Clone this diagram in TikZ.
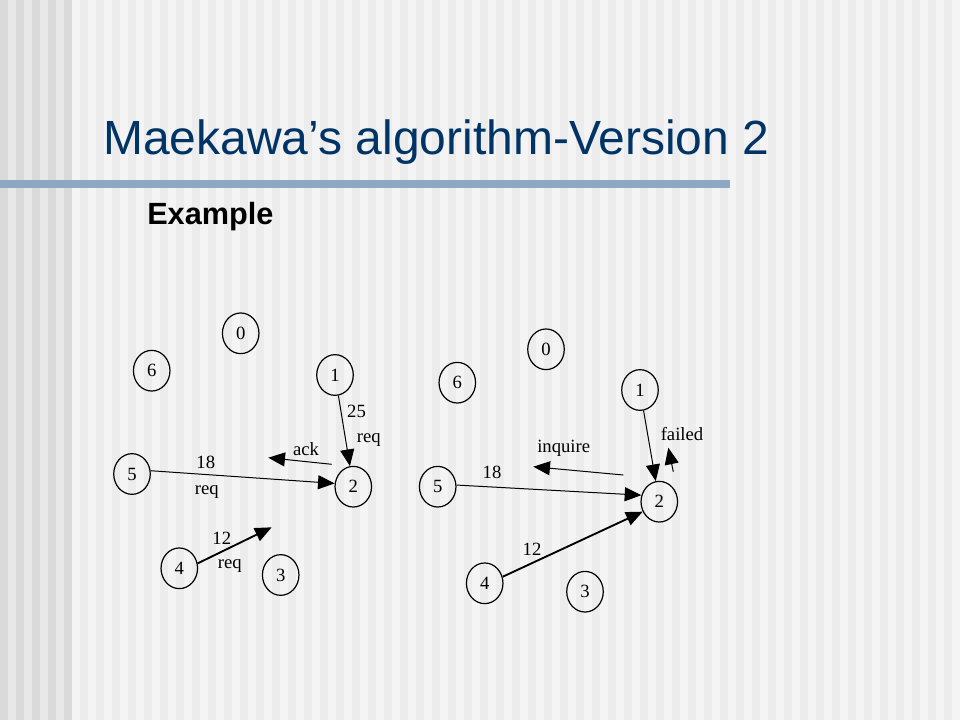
\documentclass[tikz,border=0pt]{standalone}
\usepackage{fontspec}
\setmainfont{Liberation Serif}
\newfontfamily\arialfont{Liberation Sans}
\usetikzlibrary{arrows.meta,shapes.geometric}
\definecolor{titleblue}{RGB}{0,51,102}
\definecolor{rulebar}{RGB}{141,168,196}
\definecolor{stripeA}{RGB}{218,218,218}
\definecolor{stripeB}{RGB}{232,232,232}
\definecolor{stripeC}{RGB}{244,244,244}
\definecolor{stripeD}{RGB}{236,236,236}
\tikzset{
  proc/.style={ellipse, draw, line width=0.9pt, minimum width=27.4pt, minimum height=30.5pt, inner sep=0pt, font=\fontsize{14}{16}\selectfont},
  msg/.style={-{Triangle[length=12.5pt,width=10.5pt]}, line width=0.75pt},
  msgbold/.style={msg, line width=1.4pt},
  lbl/.style={inner sep=0pt, font=\fontsize{14}{16}\selectfont}
}
\begin{document}
\begin{tikzpicture}[x=0.75pt,y=-0.75pt]
\useasboundingbox (0,0) rectangle (960,720);
\fill[stripeB] (0,0) rectangle (72,720);
\foreach \x in {0,16,...,64} \fill[stripeA] (\x,0) rectangle ++(8,720);
\fill[stripeC] (72,0) rectangle (960,720);
\foreach \x in {80,96,...,944} \fill[stripeD] (\x,0) rectangle ++(8,720);
\fill[rulebar] (0,180) rectangle (730,188);
\node[anchor=base west, inner sep=0pt, text=titleblue, font=\arialfont\fontsize{36}{40}\selectfont] (title) at (103,155) {Maekawa’s algorithm-Version 2};
\node[anchor=base west, inner sep=0pt, font=\arialfont\bfseries\fontsize{23}{26}\selectfont] (example) at (147,225) {Example};

\node[proc] (l0) at (240.7,333.3) {0};
\node[proc] (l6) at (151.7,370.7) {6};
\node[proc] (l1) at (335,375) {1};
\node[proc] (l5) at (132,474) {5};
\node[proc] (l2) at (353.3,486.7) {2};
\node[proc] (l4) at (179.3,568.3) {4};
\node[proc] (l3) at (280.7,575) {3};
\coordinate (lackfrom) at (331.7,464.3);
\coordinate (lackto) at (268.3,457.7);
\coordinate (l4tip) at (271.7,527.3);
\draw[msg] (l1) -- (l2);
\draw[msg] (l5.10) -- (l2.170);
\draw[msg] (lackfrom) -- (lackto);
\draw[msgbold] (l4.15) -- (l4tip);
\node[lbl] (l25) at (356.5,411.3) {25};
\node[lbl] (lreq1) at (368.7,440) {req};
\node[lbl] (lack) at (306,448.7) {ack};
\node[lbl] (l18) at (205.8,462.5) {18};
\node[lbl] (lreq5) at (206.7,492) {req};
\node[lbl] (l12) at (221.8,538.5) {12};
\node[lbl] (lreq4) at (229.7,566) {req};

\node[proc] (r0) at (546,349.3) {0};
\node[proc] (r6) at (457.3,382.7) {6};
\node[proc] (r1) at (640,390) {1};
\node[proc] (r5) at (437.7,486.7) {5};
\node[proc] (r2) at (659.3,501.7) {2};
\node[proc] (r4) at (484.7,583.3) {4};
\node[proc] (r3) at (585,591.7) {3};
\coordinate (rinqfrom) at (623.3,475);
\coordinate (rinqto) at (533.3,466.7);
\coordinate (rfailfrom) at (673.3,471.7);
\coordinate (rfailto) at (668.3,447.7);
\draw[msg] (r1) -- (r2);
\draw[msg] (r5.5) -- (r2.160);
\draw[msgbold] (r4.20) -- (r2.211);
\draw[msg] (rinqfrom) -- (rinqto);
\draw[msg] (rfailfrom) -- (rfailto);
\node[lbl] (rfailed) at (682,434) {failed};
\node[lbl] (rinquire) at (563.7,448) {inquire};
\node[lbl] (r18) at (492,472.3) {18};
\node[lbl] (r12) at (532,549) {12};
\end{tikzpicture}
\end{document}
